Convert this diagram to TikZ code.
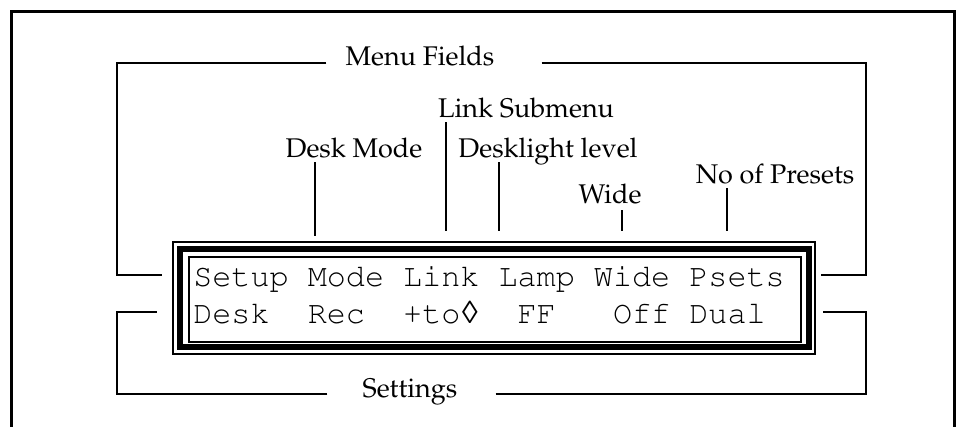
\documentclass[tikz,border=0pt]{standalone}
\usepackage{fontspec}
\newfontfamily\lozfont{Liberation Mono}
\newcommand\palfont{\fontencoding{T1}\fontfamily{ppl}\selectfont}
\newcommand\crfont{\fontencoding{T1}\fontfamily{pcr}\selectfont}
\begin{document}
\begin{tikzpicture}[x=1pt,y=-1pt,semithick,
  lbl/.style={inner sep=0pt,anchor=base,font=\palfont\fontsize{27}{30}\selectfont},
  lcdrow/.style={inner sep=0pt,anchor=base west,font=\crfont\fontsize{31.8}{36}\selectfont},
  lead/.style={line width=1.2pt}]
\useasboundingbox (0,0) rectangle (961,426);
% outer frame, open at the bottom
\draw[line width=2.5pt] (11.5,440) -- (11.5,11.5) -- (954.5,11.5) -- (954.5,440);
% display
\draw[line width=1.2pt] (173,242) rectangle (815,354);
\draw[line width=5.5pt] (180,249) rectangle (809,347);
\draw[line width=1.2pt] (189,257) rectangle (801,342);
\node[lcdrow] (row1) at (193,286) {Setup Mode Link Lamp Wide Psets};
\node[lcdrow] (row2) at (193,323) {Desk~~Rec~~+to{\lozfont ◊}~~FF~~~Off~Dual};
% labels
\node[lbl] (menu) at (420,65) {Menu Fields};
\node[lbl] (settings) at (410,397) {Settings};
\node[lbl] (linksub) at (526,117) {Link Submenu};
\node[lbl] (deskmode) at (354,157) {Desk Mode};
\node[lbl] (desklight) at (548,157) {Desklight level};
\node[lbl] (wide) at (610,203) {Wide};
\node[lbl] (presets) at (775,183) {No of Presets};
% tick ends
\coordinate (tmode) at (315,236);
\coordinate (tlink) at (446,231);
\coordinate (tlamp) at (499,231);
\coordinate (twide) at (622,231);
\coordinate (tpsets) at (727,231);
\draw[lead] (deskmode.base -| tmode) ++(0,5) -- (tmode);
\draw[lead] (linksub.base -| tlink) ++(0,5) -- (tlink);
\draw[lead] (desklight.base -| tlamp) ++(0,5) -- (tlamp);
\draw[lead] (wide.base -| twide) ++(0,7) -- (twide);
\draw[lead] (presets.base -| tpsets) ++(0,5) -- (tpsets);
% brackets
\draw[lead] ([xshift=-19pt]menu.base west) ++(0,-2) -| (117,275) -- (162,275);
\draw[lead] ([xshift=47pt]menu.base east) ++(0,-2) -| (866,275) -- (821,275);
\draw[lead] ([xshift=-35pt]settings.base west) ++(0,-3) -| (117,312) -- (157,312);
\draw[lead] ([xshift=38pt]settings.base east) ++(0,-3) -| (866,312) -- (823,312);
\end{tikzpicture}
\end{document}
